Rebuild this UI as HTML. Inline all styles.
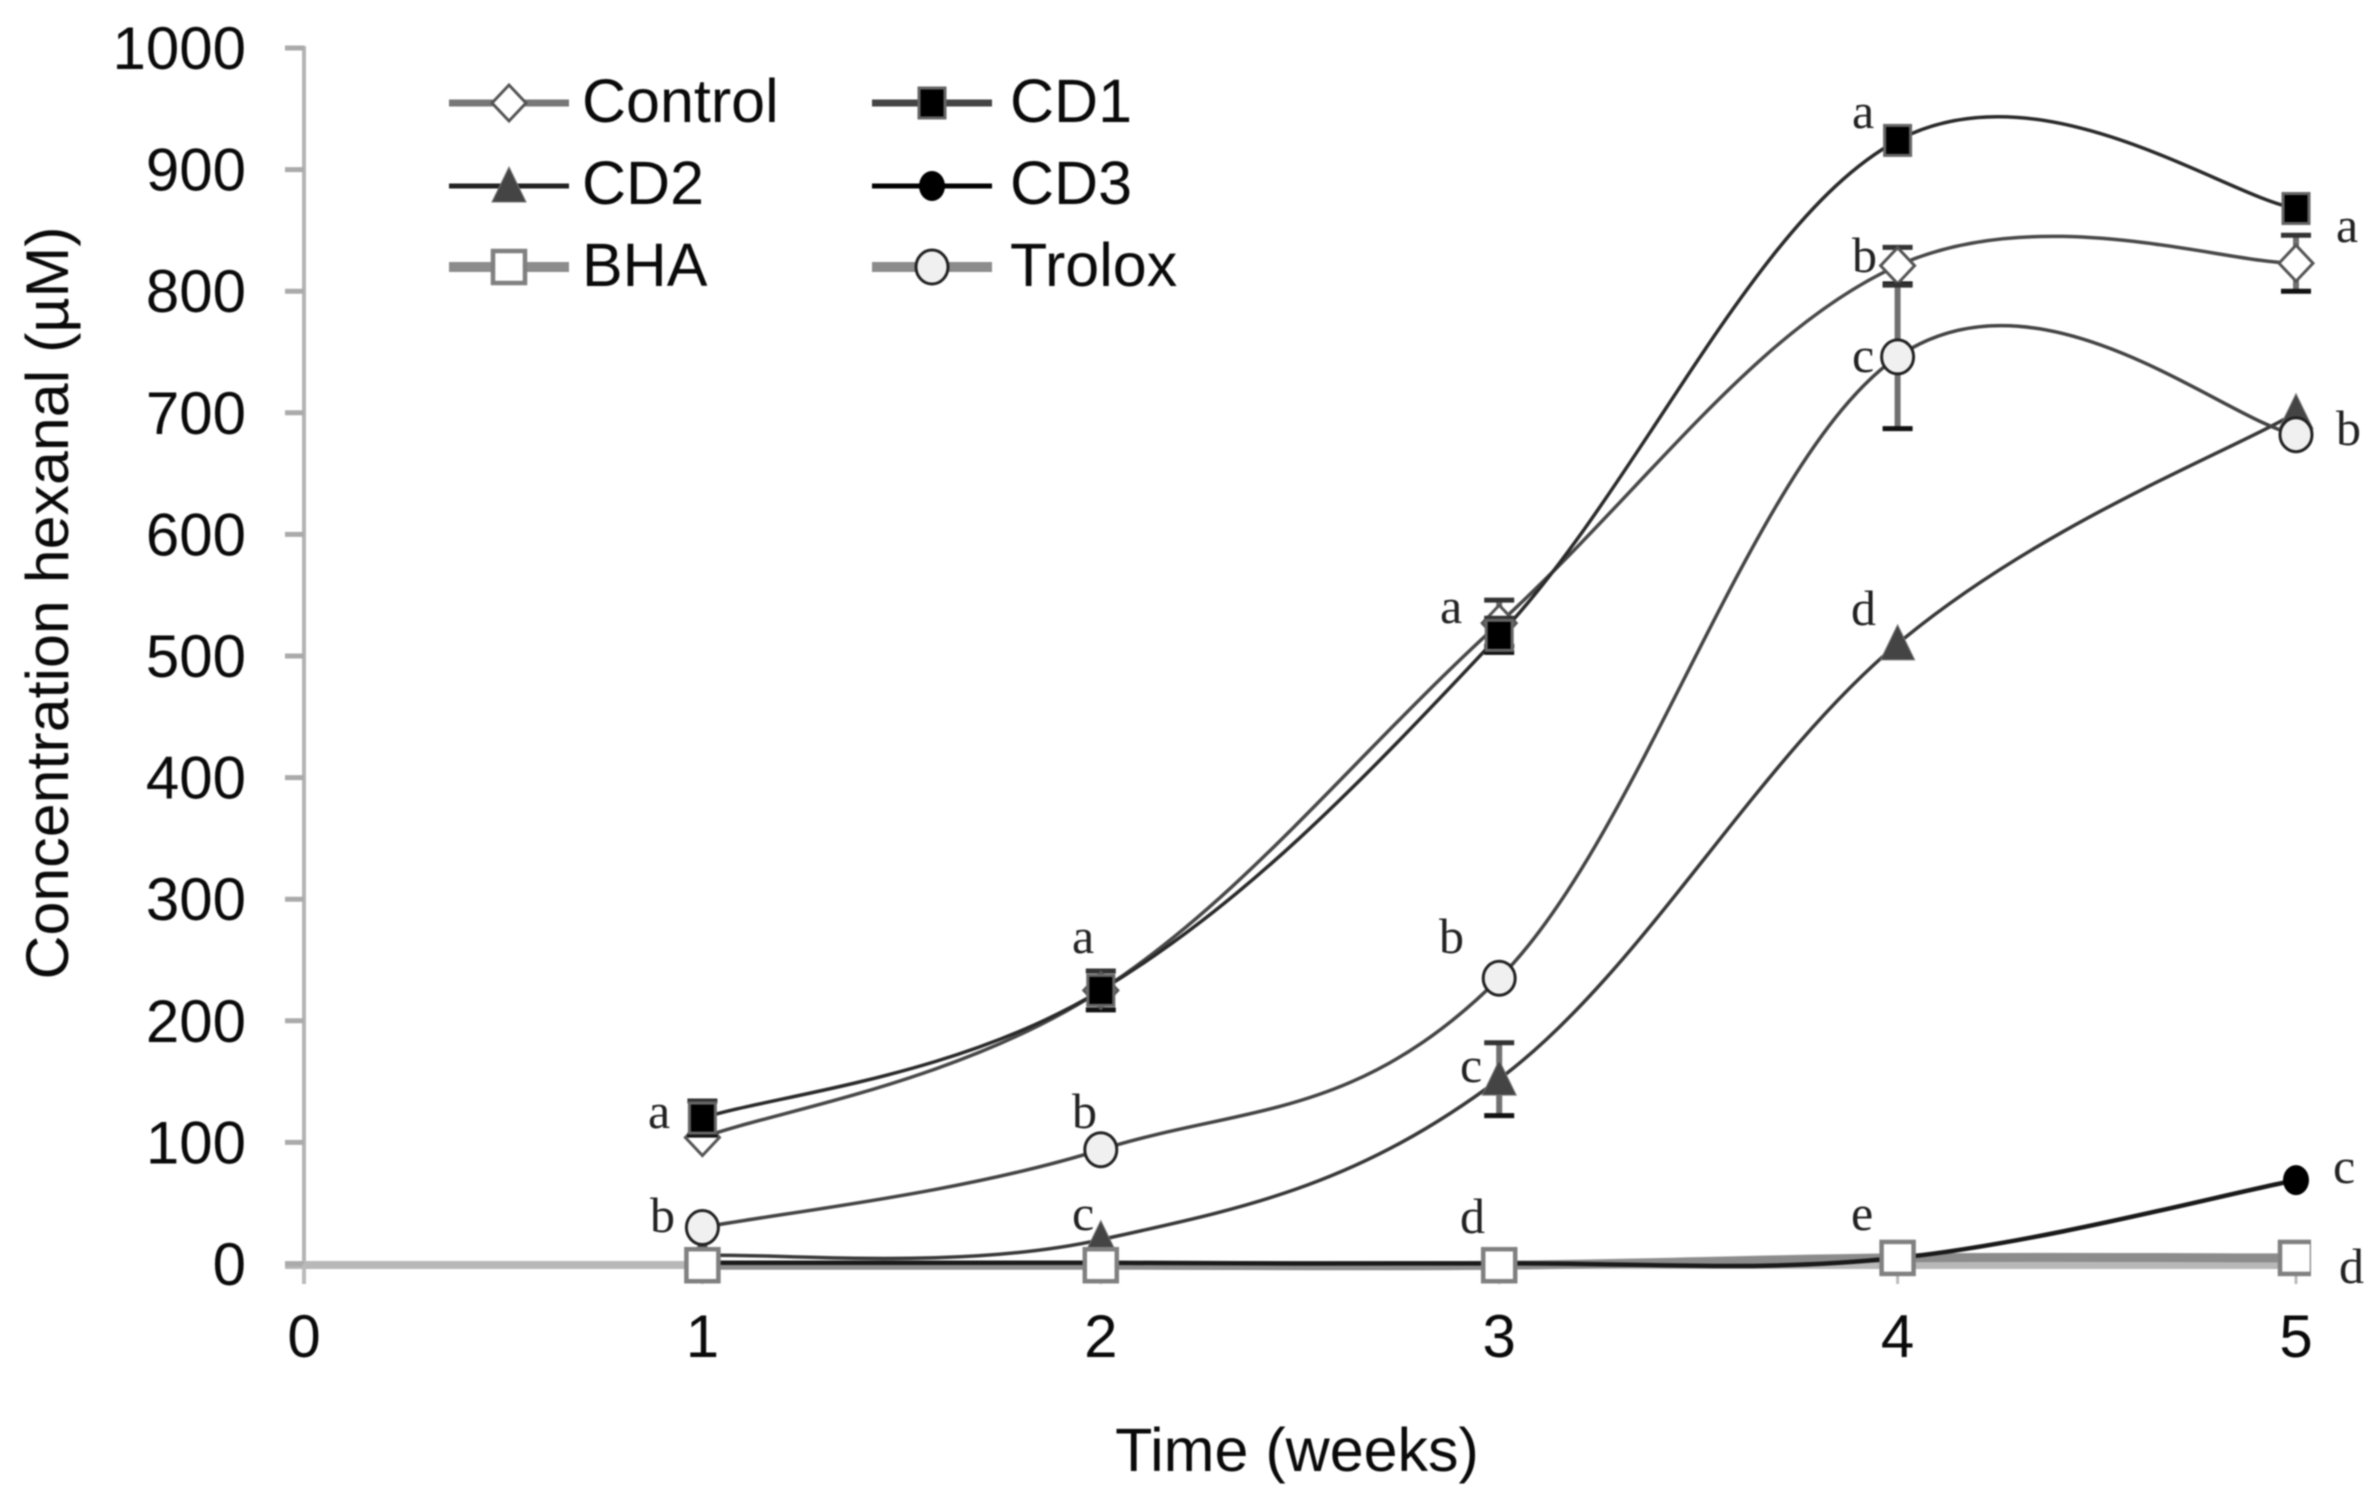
<!DOCTYPE html>
<html lang="en">
<head>
<meta charset="utf-8">
<title>Concentration hexanal over time</title>
<style>
  html, body { margin: 0; padding: 0; background: #fff; width: 2373px; height: 1493px; overflow: hidden; }
  svg { display: block; filter: blur(0.8px); }
  text { font-family: "Liberation Sans", sans-serif; font-size: 60px; fill: #0a0a0a; }
  .legend-text { font-size: 61px; }
  .letter { font-family: "Liberation Serif", serif; font-size: 50px; fill: #222; }
</style>
</head>
<body>
<svg id="chart" xmlns="http://www.w3.org/2000/svg" width="2373" height="1493" viewBox="0 0 2373 1493">
  <defs>
    <clipPath id="bha-clip"><rect x="0" y="0" width="2311" height="1493"></rect></clipPath>
  </defs>
  <g id="axes"></g>
  <g id="lines"></g>
  <g id="marks"></g>

  <text transform="translate(68 603) rotate(-90)" text-anchor="middle" textLength="753" lengthAdjust="spacingAndGlyphs">Concentration hexanal (µM)</text>
  <text x="1297" y="1471" text-anchor="middle" style="font-size:61px">Time (weeks)</text>

  <g id="legend">
    <text class="legend-text" x="582" y="122">Control</text>
    <text class="legend-text" x="1010" y="122">CD1</text>
    <text class="legend-text" x="582" y="204">CD2</text>
    <text class="legend-text" x="1010" y="204">CD3</text>
    <text class="legend-text" x="582" y="286">BHA</text>
    <text class="legend-text" x="1010" y="286">Trolox</text>
  </g>

  <g id="letters">
    <text class="letter" x="648" y="1128">a</text>
    <text class="letter" x="650" y="1232">b</text>
    <text class="letter" x="1072" y="953">a</text>
    <text class="letter" x="1072" y="1128">b</text>
    <text class="letter" x="1072" y="1230">c</text>
    <text class="letter" x="1440" y="623">a</text>
    <text class="letter" x="1439" y="953">b</text>
    <text class="letter" x="1460" y="1082">c</text>
    <text class="letter" x="1460" y="1233">d</text>
    <text class="letter" x="1852" y="128">a</text>
    <text class="letter" x="1852" y="272">b</text>
    <text class="letter" x="1852" y="372">c</text>
    <text class="letter" x="1851" y="625">d</text>
    <text class="letter" x="1851" y="1230">e</text>
    <text class="letter" x="2336" y="242">a</text>
    <text class="letter" x="2336" y="445">b</text>
    <text class="letter" x="2333" y="1183">c</text>
    <text class="letter" x="2339" y="1283">d</text>
  </g>
</svg>
<script>
const weeks = [1, 2, 3, 4, 5];
const xTicks = [0, 1, 2, 3, 4, 5];
const yTicks = [0, 100, 200, 300, 400, 500, 600, 700, 800, 900, 1000];

const controlValues = [104, 225, 527, 821, 823];
const cd1Values = [120, 225, 517, 924, 868];
const cd2Values = [7, 20, 152, 510, 700];
const cd3Values = [1, 1, 0.5, 5, 69];
const bhaValues = [-1, -1, -1, 5, 5];
const troloxValues = [30, 94, 235, 746, 682];

const controlErrors = [0, 16, 19, 15, 23];
const cd1Errors = [14, 0, 14, 0, 0];
const cd2Errors = [0, 0, 30, 0, 0];
const cd3Errors = [0, 0, 0, 0, 0];
const bhaErrors = [0, 0, 0, 0, 0];
const troloxErrors = [0, 0, 0, 59, 0];

const NS = 'http://www.w3.org/2000/svg';
const xScale = w => 304 + 398.4 * w;
const yScale = v => 1264 - 1.216 * v;

function make(tag, attrs, parent) {
  const node = document.createElementNS(NS, tag);
  for (const key in attrs) node.setAttribute(key, attrs[key]);
  parent.appendChild(node);
  return node;
}

function smoothPath(points) {
  const k = 0.18;
  let d = 'M' + points[0][0] + ' ' + points[0][1];
  for (let i = 0; i < points.length - 1; i++) {
    const p0 = points[Math.max(i - 1, 0)];
    const p1 = points[i];
    const p2 = points[i + 1];
    const p3 = points[Math.min(i + 2, points.length - 1)];
    const c1x = p1[0] + (p2[0] - p0[0]) * k;
    const c1y = p1[1] + (p2[1] - p0[1]) * k;
    const c2x = p2[0] - (p3[0] - p1[0]) * k;
    const c2y = p2[1] - (p3[1] - p1[1]) * k;
    d += ' C' + c1x + ' ' + c1y + ' ' + c2x + ' ' + c2y + ' ' + p2[0] + ' ' + p2[1];
  }
  return d;
}

function drawMarker(kind, cx, cy, parent) {
  let node;
  if (kind === 'diamond') {
    node = make('polygon', { points: (cx - 17) + ',' + cy + ' ' + cx + ',' + (cy - 18) + ' ' + (cx + 17) + ',' + cy + ' ' + cx + ',' + (cy + 18), fill: '#fff', stroke: '#555', 'stroke-width': 3 }, parent);
  } else if (kind === 'solid-square') {
    node = make('rect', { x: cx - 13, y: cy - 15, width: 26, height: 30, fill: '#000', stroke: '#666', 'stroke-width': 3 }, parent);
  } else if (kind === 'triangle') {
    node = make('polygon', { points: (cx - 17) + ',' + (cy + 16) + ' ' + cx + ',' + (cy - 19) + ' ' + (cx + 17) + ',' + (cy + 16), fill: '#444', stroke: '#777', 'stroke-width': 1 }, parent);
  } else if (kind === 'dot') {
    node = make('ellipse', { cx: cx, cy: cy, rx: 13, ry: 15, fill: '#000' }, parent);
  } else if (kind === 'open-square') {
    node = make('rect', { x: cx - 16, y: cy - 16, width: 32, height: 32, fill: '#fff', stroke: '#808080', 'stroke-width': 4.5 }, parent);
  } else {
    node = make('ellipse', { cx: cx, cy: cy, rx: 16, ry: 17, fill: '#f0f0f0', stroke: '#222', 'stroke-width': 3 }, parent);
  }
  return node;
}

const seriesList = [
  { key: 'control', values: controlValues, errors: controlErrors, marker: 'diamond', lineColor: '#484848', lineWidth: 3.5, legendColor: '#777', legendWidth: 7, legendX: 449, legendY: 103 },
  { key: 'cd1', values: cd1Values, errors: cd1Errors, marker: 'solid-square', lineColor: '#2a2a2a', lineWidth: 3.5, legendColor: '#444', legendWidth: 7, legendX: 872, legendY: 103 },
  { key: 'cd2', values: cd2Values, errors: cd2Errors, marker: 'triangle', lineColor: '#383838', lineWidth: 3.5, legendColor: '#222', legendWidth: 5, legendX: 449, legendY: 186 },
  { key: 'cd3', values: cd3Values, errors: cd3Errors, marker: 'dot', lineColor: '#1a1a1a', lineWidth: 4.5, legendColor: '#000', legendWidth: 5, legendX: 872, legendY: 186 },
  { key: 'bha', values: bhaValues, errors: bhaErrors, marker: 'open-square', lineColor: '#8c8c8c', lineWidth: 9, legendColor: '#8c8c8c', legendWidth: 10, legendX: 449, legendY: 267 },
  { key: 'trolox', values: troloxValues, errors: troloxErrors, marker: 'circle', lineColor: '#444', lineWidth: 3.5, legendColor: '#8c8c8c', legendWidth: 10, legendX: 872, legendY: 267 }
];

const axes = document.getElementById('axes');
const lines = document.getElementById('lines');
const marks = document.getElementById('marks');
const legend = document.getElementById('legend');

const yAxisLine = make('line', { x1: 304, y1: yScale(1000) - 2, x2: 304, y2: 1284, stroke: '#b4b4b4', 'stroke-width': 4 }, axes);



const xAxisLine = make('line', { x1: 285, y1: 1265, x2: xScale(5) + 15, y2: 1265, stroke: '#b8b8b8', 'stroke-width': 8 }, axes);



yTicks.forEach(function (value) {
  const tick = make('line', { x1: 285, y1: yScale(value), x2: 304, y2: yScale(value), stroke: '#aaa', 'stroke-width': 5 }, axes);
  
  
  const label = make('text', { x: 246, y: yScale(value) + 21, 'text-anchor': 'end' }, axes);
  label.textContent = String(value);
  
  
});

xTicks.forEach(function (value) {
  const tick = make('line', { x1: xScale(value), y1: 1264, x2: xScale(value), y2: 1284, stroke: '#bbb', 'stroke-width': 3 }, axes);
  
  
  const label = make('text', { x: xScale(value), y: 1357, 'text-anchor': 'middle' }, axes);
  label.textContent = String(value);
  
  
});

const lineOrder = ['bha', 'control', 'cd1', 'cd2', 'cd3', 'trolox'];
lineOrder.forEach(function (key) {
  const series = seriesList.find(s => s.key === key);
  const points = weeks.map((w, i) => [xScale(w), yScale(series.values[i])]);
  const path = make('path', { d: smoothPath(points), fill: 'none', stroke: series.lineColor, 'stroke-width': series.lineWidth }, lines);
  
  
});

seriesList.forEach(function (series) {
  const group = make('g', {}, marks);
  
  
  if (series.key === 'bha') group.setAttribute('clip-path', 'url(#bha-clip)');
  weeks.forEach(function (w, i) {
    const err = series.errors[i];
    const cx = xScale(w);
    if (err > 0) {
      const hi = yScale(series.values[i] + err);
      const lo = yScale(series.values[i] - err);
      const stem = make('line', { x1: cx, y1: hi, x2: cx, y2: lo, stroke: '#707070', 'stroke-width': 6 }, group);
      
      
      const capTop = make('line', { x1: cx - 15, y1: hi, x2: cx + 15, y2: hi, stroke: '#333', 'stroke-width': 5 }, group);
      
      
      const capBottom = make('line', { x1: cx - 15, y1: lo, x2: cx + 15, y2: lo, stroke: '#111', 'stroke-width': 5 }, group);
      
      
    }
  });
  weeks.forEach(function (w, i) {
    const marker = drawMarker(series.marker, xScale(w), yScale(series.values[i]), group);
    
    
  });

  const swatchLine = make('line', { x1: series.legendX, y1: series.legendY, x2: series.legendX + 120, y2: series.legendY, stroke: series.legendColor, 'stroke-width': series.legendWidth }, legend);
  
  
  const swatchMarker = drawMarker(series.marker, series.legendX + 60, series.legendY, legend);
  
  
});
</script>
</body>
</html>
